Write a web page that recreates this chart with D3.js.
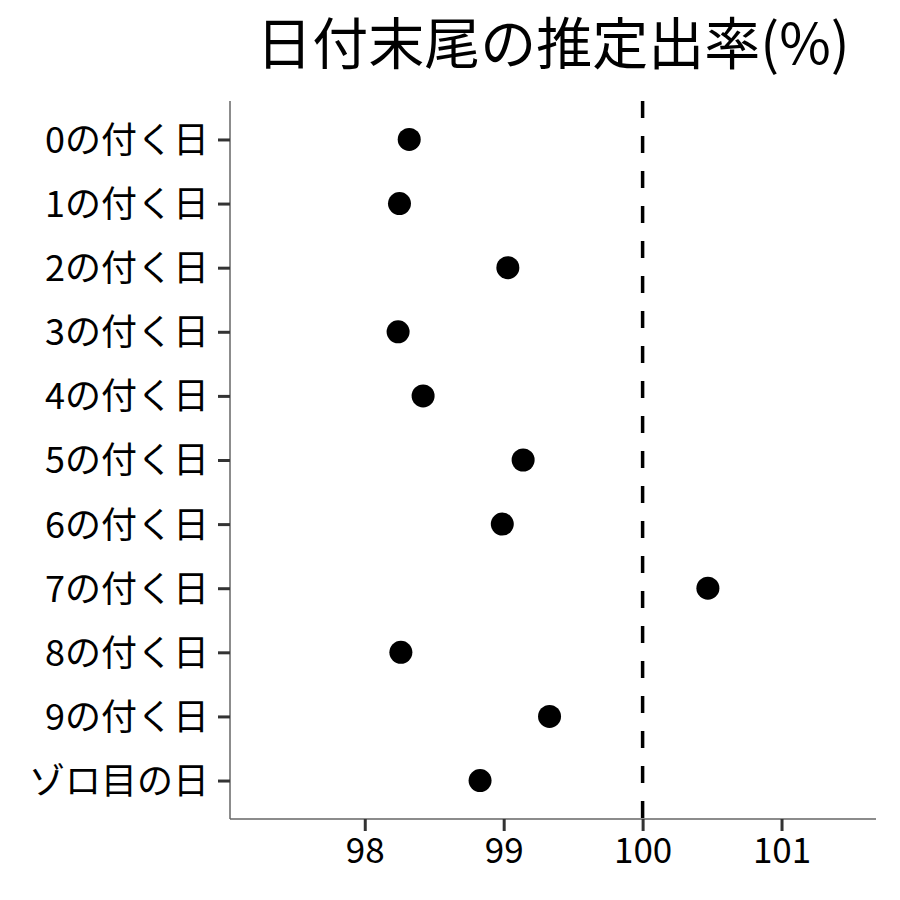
<!DOCTYPE html>
<html><head><meta charset="utf-8">
<script src="https://cdn.jsdelivr.net/npm/d3@7/dist/d3.min.js"></script>
<style>html,body{margin:0;padding:0;background:#fff;}svg{display:block;}</style>
</head><body>
<script>
const categories = ["0の付く日","1の付く日","2の付く日","3の付く日","4の付く日","5の付く日","6の付く日","7の付く日","8の付く日","9の付く日","ゾロ目の日"];
const values = [98.32, 98.25, 99.03, 98.24, 98.42, 99.14, 98.99, 100.47, 98.26, 99.33, 98.83];
const xTicks = [98, 99, 100, 101];
const refValue = 100;
const title = "日付末尾の推定出率(%)";

const W = 900, H = 900;
const mLeft = 230, mRight = 876, mTop = 101, mBottom = 819;
const font = "'Noto Sans CJK JP','Noto Sans',sans-serif";

const svg = d3.select("body").append("svg").attr("width", W).attr("height", H);

const x = d3.scaleLinear().domain([97.03, 101.68]).range([mLeft, mRight]);
const y = d3.scalePoint().domain(categories).range([mTop, mBottom]).padding(0.6);

// reference line
svg.append("line")
  .attr("x1", x(refValue)).attr("x2", x(refValue))
  .attr("y1", mTop).attr("y2", mBottom)
  .attr("stroke", "#000").attr("stroke-width", 3.5)
  .attr("stroke-dasharray", "17,18");

// points
svg.append("g").selectAll("circle").data(values).join("circle")
  .attr("cx", d => x(d))
  .attr("cy", (d, i) => y(categories[i]))
  .attr("r", 11.5)
  .attr("fill", "#000");

// axes
const gx = svg.append("g").attr("transform", `translate(0,${mBottom})`)
  .call(d3.axisBottom(x).tickValues(xTicks).tickSize(12).tickPadding(6).tickFormat(d3.format("d")));
const gy = svg.append("g").attr("transform", `translate(${mLeft},0)`)
  .call(d3.axisLeft(y).tickSize(12).tickPadding(9));

[gx, gy].forEach(g => {
  g.select(".domain").attr("stroke", "#666").attr("stroke-width", 1.5);
  g.selectAll(".tick line").attr("stroke", "#333").attr("stroke-width", 3);
  g.selectAll(".tick text").attr("fill", "#000").style("font-family", font);
});
gx.selectAll(".tick text").style("font-size", "35px").attr("dy", "0.74em");
gy.selectAll(".tick text").style("font-size", "36px").attr("dy", "0.36em");
gx.select(".domain").attr("d", `M${mLeft},0H${mRight}`);
gy.select(".domain").attr("d", `M0,${mTop}V${mBottom}`);

svg.append("text")
  .attr("x", (mLeft + mRight) / 2).attr("y", 64)
  .attr("text-anchor", "middle")
  .style("font-family", font).style("font-size", "56px")
  .attr("fill", "#000")
  .text(title);
</script>
</body></html>
